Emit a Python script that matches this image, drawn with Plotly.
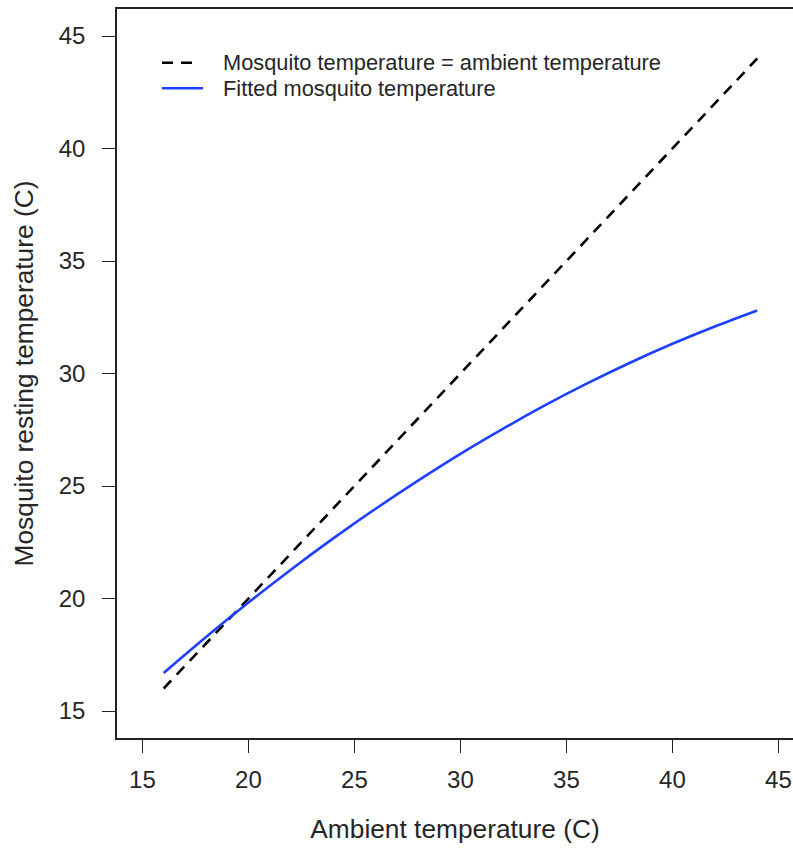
import plotly.graph_objects as go

# Data
ambient = [16, 18, 20, 22, 24, 26, 28, 30, 32, 34, 36, 38, 40, 42, 44]
fitted = [16.69, 18.29, 19.82, 21.28, 22.67, 23.99, 25.24, 26.43, 27.54,
          28.59, 29.57, 30.48, 31.32, 32.09, 32.80]
identity_x = [16, 44]
identity_y = [16, 44]
tick_vals = [15, 20, 25, 30, 35, 40, 45]
legend_labels = ["Mosquito temperature = ambient temperature",
                 "Fitted mosquito temperature"]

W, H = 793, 848
ML, MR, MT, MB = 117, 0, 9, 110
PW, PH = W - ML - MR, H - MT - MB
XPX = 21.2  # px per unit

FONT = "Liberation Sans, Arial, Helvetica, sans-serif"
BLUE = "#1E40FF"
TXT = "#262626"

fig = go.Figure()
fig.add_trace(go.Scatter(x=identity_x, y=identity_y, mode="lines",
                         line=dict(color="black", width=2.6, dash="11px,8px"),
                         showlegend=False, hoverinfo="skip"))
fig.add_trace(go.Scatter(x=ambient, y=fitted, mode="lines",
                         line=dict(color=BLUE, width=2.6, shape="spline", smoothing=1.0),
                         showlegend=False, hoverinfo="skip"))

def px2x(px):
    return (px - ML) / PW

def py2y(py):
    return (H - MB - py) / PH

shapes = [
    dict(type="line", xref="paper", yref="paper",
         x0=px2x(162), x1=px2x(197), y0=py2y(62.7), y1=py2y(62.7),
         line=dict(color="black", width=2.6, dash="11px,8px")),
    dict(type="line", xref="paper", yref="paper",
         x0=px2x(162), x1=px2x(203), y0=py2y(88.3), y1=py2y(88.3),
         line=dict(color=BLUE, width=2.6)),
]
annotations = [
    dict(xref="paper", yref="paper", x=px2x(221), y=py2y(62.7),
         text=legend_labels[0], showarrow=False, xanchor="left", yanchor="middle",
         font=dict(family=FONT, size=21.8, color=TXT)),
    dict(xref="paper", yref="paper", x=px2x(221), y=py2y(88.3),
         text=legend_labels[1], showarrow=False, xanchor="left", yanchor="middle",
         font=dict(family=FONT, size=21.8, color=TXT)),
]

fig.update_layout(
    width=W, height=H,
    margin=dict(l=ML, r=MR, t=MT, b=MB, pad=0),
    paper_bgcolor="white", plot_bgcolor="white",
    font=dict(family=FONT, color=TXT),
    shapes=shapes, annotations=annotations,
    showlegend=False,
)
fig.update_xaxes(
    range=[13.8, 13.8 + PW / XPX], tickvals=tick_vals,
    ticks="outside", ticklen=13, tickwidth=1.3, tickcolor="#222",
    showline=True, mirror=True, linecolor="#222", linewidth=1.6,
    showgrid=False, zeroline=False,
    tickfont=dict(family=FONT, size=24, color=TXT),
    ticklabelstandoff=6,
    title=dict(text="Ambient temperature (C)", standoff=28,
               font=dict(family=FONT, size=26.3, color=TXT)),
)
fig.update_yaxes(
    range=[13.8, 46.2], tickvals=tick_vals,
    ticks="outside", ticklen=13, tickwidth=1.3, tickcolor="#222",
    showline=True, mirror=False, linecolor="#222", linewidth=1.6,
    showgrid=False, zeroline=False,
    tickfont=dict(family=FONT, size=24, color=TXT),
    ticklabelstandoff=12,
    title=dict(text="Mosquito resting temperature (C)", standoff=17,
               font=dict(family=FONT, size=26.3, color=TXT)),
)

fig.write_html("out.html")
